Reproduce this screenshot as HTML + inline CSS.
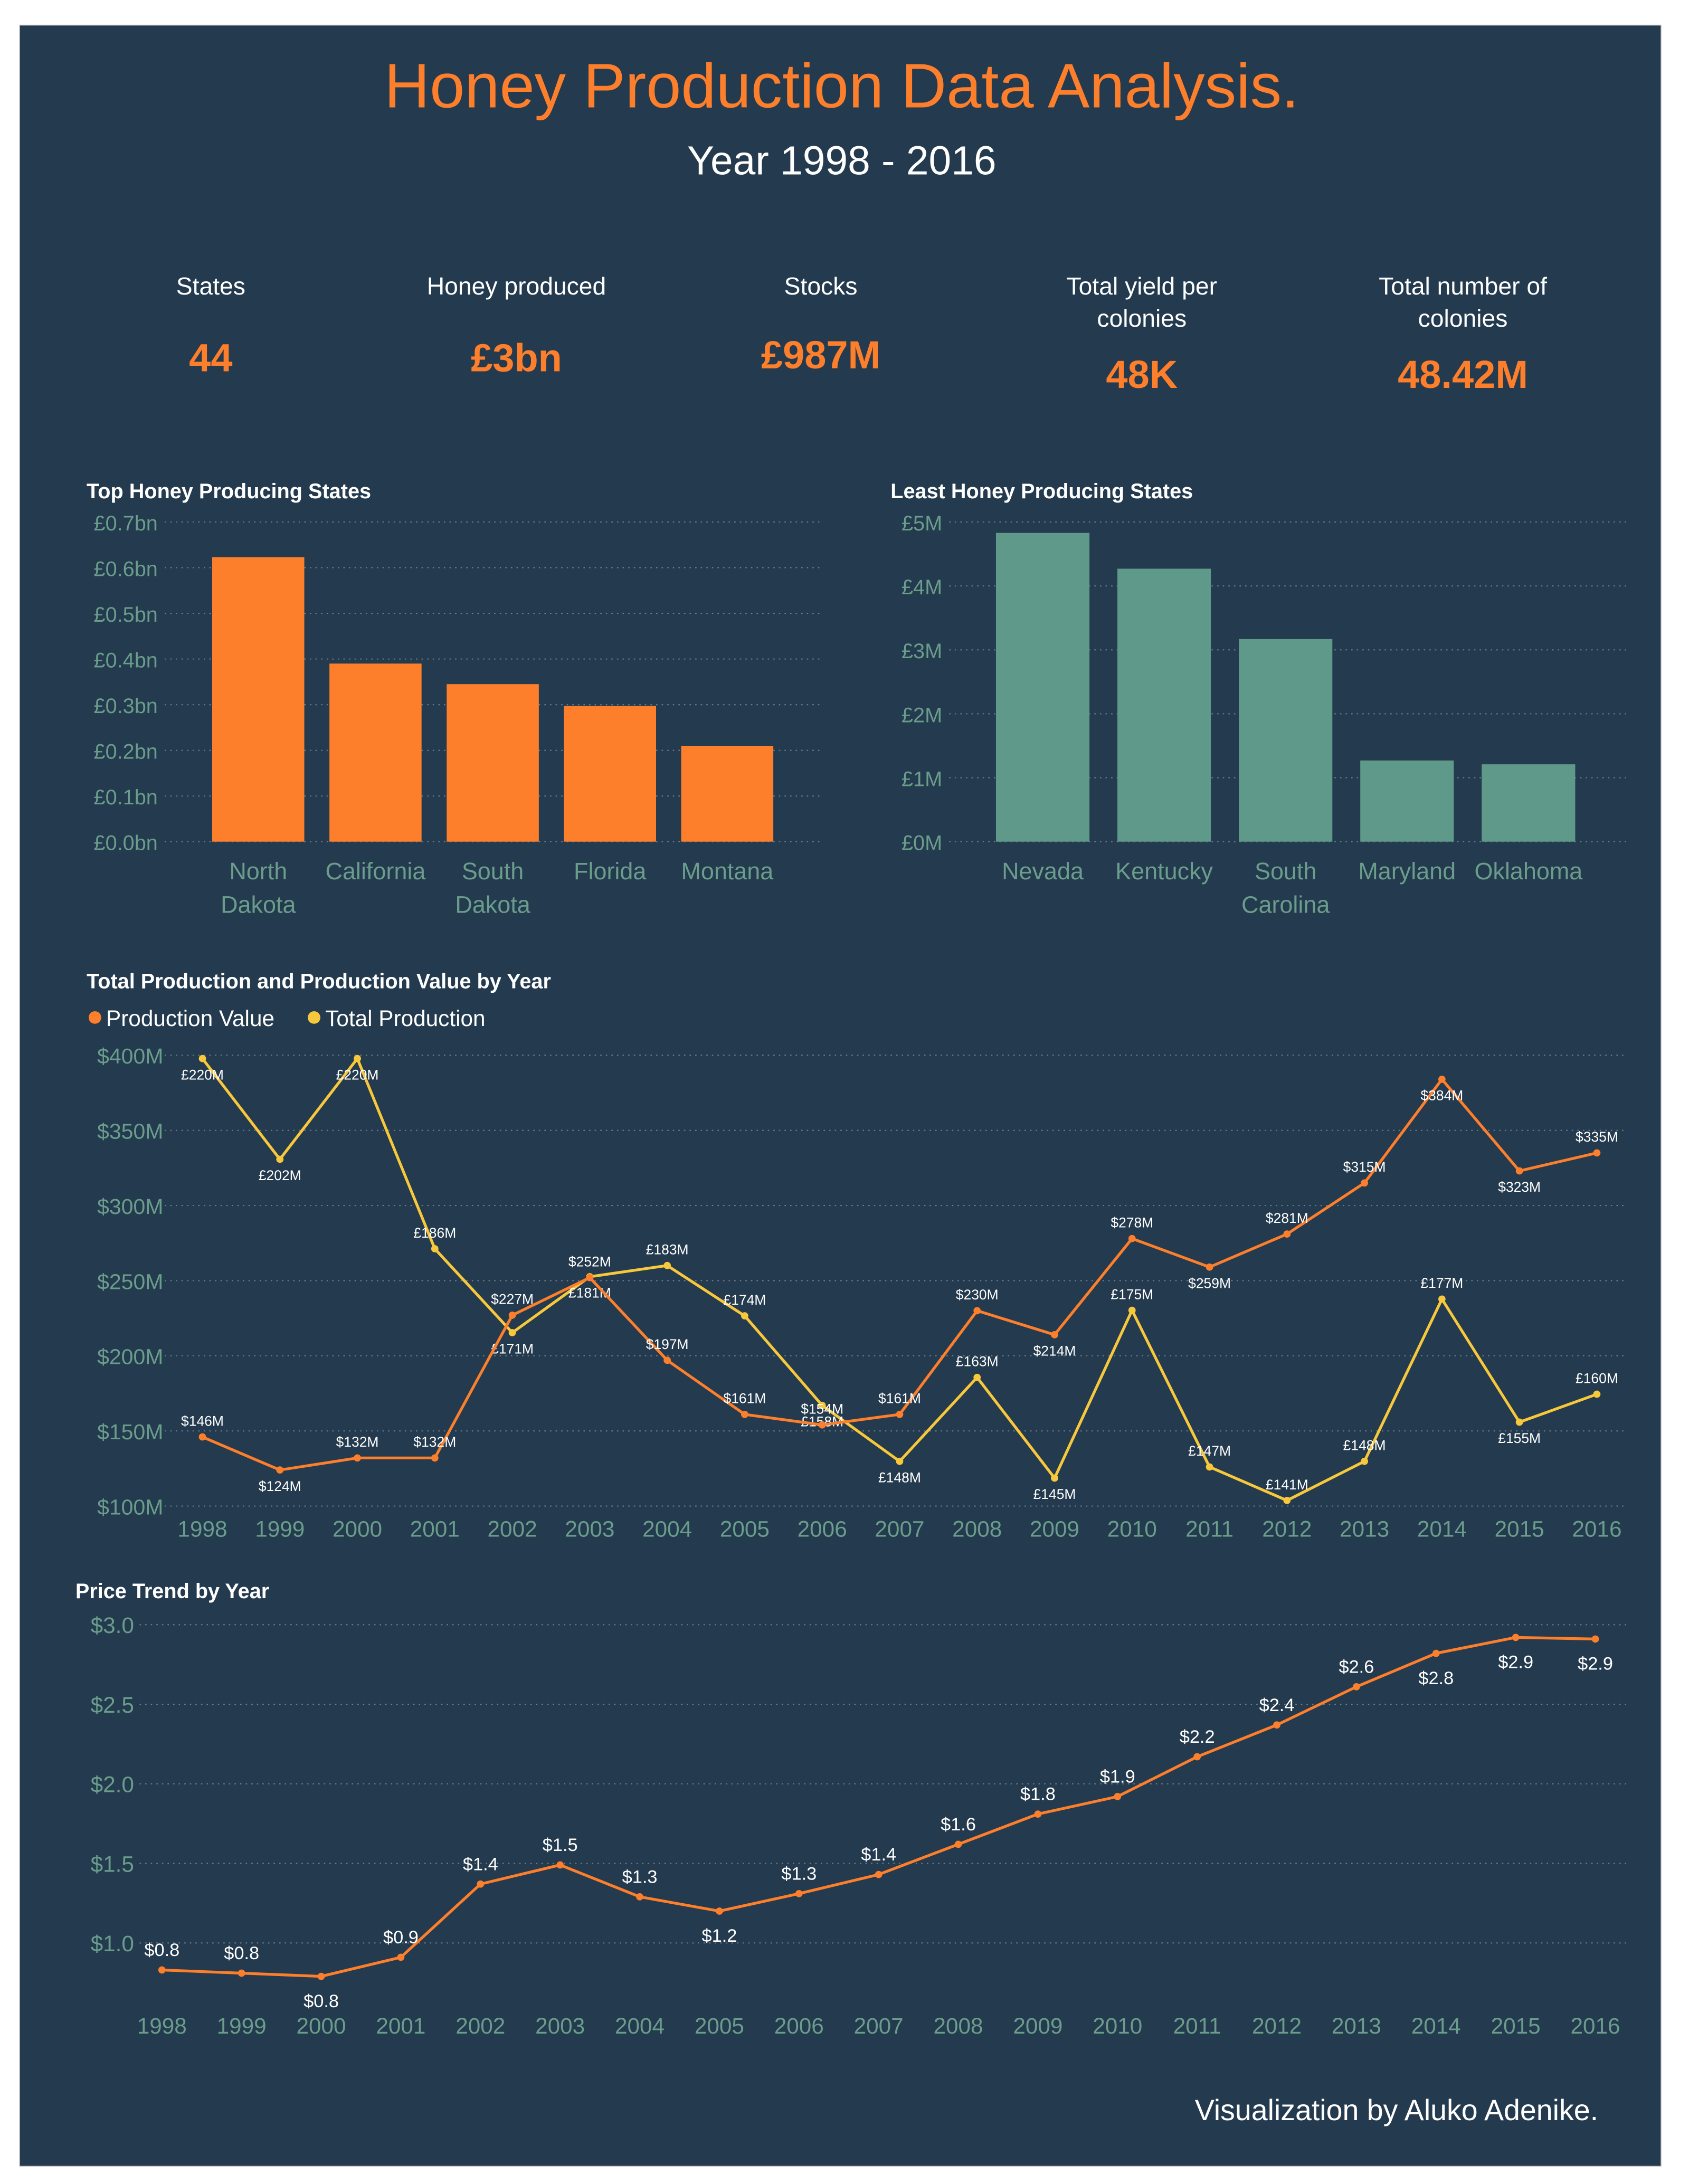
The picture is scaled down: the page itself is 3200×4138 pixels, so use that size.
<!DOCTYPE html>
<html><head><meta charset="utf-8">
<style>
html,body{margin:0;padding:0;background:#fff;width:3200px;height:4138px;overflow:hidden}
svg{display:block}
text{font-family:"Liberation Sans",sans-serif}
</style></head>
<body>
<svg id="root" width="3200" height="4138" viewBox="0 0 1210 1564.7" xmlns="http://www.w3.org/2000/svg">
<rect x="0" y="0" width="1210" height="1565" fill="#ffffff"/>
<rect x="14" y="18" width="1176" height="1534" fill="#243a4e" stroke="#c8c8c8" stroke-width="0.6"/>
<text x="603" y="77" text-anchor="middle" font-size="45" fill="#fd7f2c">Honey Production Data Analysis.</text>
<text x="603" y="125" text-anchor="middle" font-size="29" fill="#ffffff">Year 1998 - 2016</text>

<g>
<text x="151" y="211" text-anchor="middle" font-size="17.5" fill="#fff">States</text>
<text x="151" y="266" text-anchor="middle" font-size="28" font-weight="bold" fill="#fd7f2c">44</text></g>
<g>
<text x="370" y="211" text-anchor="middle" font-size="17.5" fill="#fff">Honey produced</text>
<text x="370" y="266" text-anchor="middle" font-size="28" font-weight="bold" fill="#fd7f2c">£3bn</text></g>
<g>
<text x="588" y="211" text-anchor="middle" font-size="17.5" fill="#fff">Stocks</text>
<text x="588" y="264" text-anchor="middle" font-size="28" font-weight="bold" fill="#fd7f2c">£987M</text></g>
<g>
<text x="818" y="211" text-anchor="middle" font-size="17.5" fill="#fff">Total yield per</text>
<text x="818" y="234" text-anchor="middle" font-size="17.5" fill="#fff">colonies</text>
<text x="818" y="278" text-anchor="middle" font-size="28" font-weight="bold" fill="#fd7f2c">48K</text></g>
<g>
<text x="1048" y="211" text-anchor="middle" font-size="17.5" fill="#fff">Total number of</text>
<text x="1048" y="234" text-anchor="middle" font-size="17.5" fill="#fff">colonies</text>
<text x="1048" y="278" text-anchor="middle" font-size="28" font-weight="bold" fill="#fd7f2c">48.42M</text></g>

<text x="62" y="357" font-size="15" font-weight="bold" fill="#fff">Top Honey Producing States</text>
<g id="topChart"></g>
<text x="638" y="357" font-size="15" font-weight="bold" fill="#fff">Least Honey Producing States</text>
<g id="leastChart"></g>

<text x="62" y="708" font-size="15" font-weight="bold" fill="#fff">Total Production and Production Value by Year</text>
<g><circle cx="68" cy="729" r="4.5" fill="#fd7f2c"/><text x="76" y="735" font-size="16" fill="#fff">Production Value</text></g>
<g><circle cx="225" cy="729" r="4.5" fill="#f8c83c"/><text x="233" y="735" font-size="16" fill="#fff">Total Production</text></g>
<g id="prodChart"></g>

<text x="54" y="1145" font-size="15" font-weight="bold" fill="#fff">Price Trend by Year</text>
<g id="priceChart"></g>

<text x="1145" y="1519" text-anchor="end" font-size="21" fill="#fff">Visualization by Aluko Adenike.</text>
</svg>
<script>
const topStates = ["North|Dakota","California","South|Dakota","Florida","Montana"];
const topValues = [0.623, 0.39, 0.345, 0.297, 0.21];
const topTicks = [0,0.1,0.2,0.3,0.4,0.5,0.6,0.7];
const leastStates = ["Nevada","Kentucky","South|Carolina","Maryland","Oklahoma"];
const leastValues = [4.83, 4.27, 3.17, 1.27, 1.21];
const leastTicks = [0,1,2,3,4,5];
const years = ["1998","1999","2000","2001","2002","2003","2004","2005","2006","2007","2008","2009","2010","2011","2012","2013","2014","2015","2016"];
const prodValue = [146,124,132,132,227,252,197,161,154,161,230,214,278,259,281,315,384,323,335];
const totalProd = [220,202,220,186,171,181,183,174,158,148,163,145,175,147,141,148,177,155,160];
const prodTicks = [100,150,200,250,300,350,400];
const prodValueLabelAbove = [1,0,1,1,1,1,1,1,1,1,1,0,1,0,1,1,0,0,1];
const totalProdLabelAbove = [0,0,0,1,0,0,1,1,0,0,1,0,1,1,1,1,1,0,1];
const price = [0.83,0.81,0.79,0.91,1.37,1.49,1.29,1.20,1.31,1.43,1.62,1.81,1.92,2.17,2.37,2.61,2.82,2.92,2.91];
const priceLabelAbove = [1,1,0,1,1,1,1,0,1,1,1,1,1,1,1,1,0,0,0];
const priceTicks = [1.0,1.5,2.0,2.5,3.0];

const NS="http://www.w3.org/2000/svg";
const AX="#6a9d8c", GRID="#6f7f8c";
function mk(parent,tag,attrs,txt){const e=document.createElementNS(NS,tag);for(const k in attrs)e.setAttribute(k,attrs[k]);if(txt!==undefined)e.textContent=txt;parent.appendChild(e);return e;}

function barChart(g, cats, vals, ticks, fmt, x0, x1, yTop, yBot, cx0, step, bw, color, nameBase){
  const max=ticks[ticks.length-1];
  const y=v=>yBot-(v/max)*(yBot-yTop);
  ticks.forEach(t=>{
    const l=mk(g,"line",{x1:x0,x2:x1,y1:y(t),y2:y(t),stroke:GRID,"stroke-width":0.8,"stroke-dasharray":"1 3"});
    
    
    const tx=mk(g,"text",{x:x0-5,y:y(t)+6,"text-anchor":"end","font-size":15,fill:AX},fmt(t));
    
    
  });
  cats.forEach((c,i)=>{
    const cx=cx0+i*step;
    const r=mk(g,"rect",{x:cx-bw/2,y:y(vals[i]),width:bw,height:yBot-y(vals[i]),fill:color});
    
    
    c.split('|').forEach((p,j)=>{
      const t=mk(g,"text",{x:cx,y:yBot+27+j*24,"text-anchor":"middle","font-size":17,fill:AX},p);
      
      
    });
  });
}
barChart(document.getElementById('topChart'),topStates,topValues,topTicks,t=>"£"+t.toFixed(1)+"bn",118,588,374,603,185,84,66,"#fd7f2c","top");
barChart(document.getElementById('leastChart'),leastStates,leastValues,leastTicks,t=>"£"+t+"M",680,1165,374,603,747,87,67,"#5e998a","least");

function lineSeries(g,xs,ys,color,labels,above,labelName,fs,dy){
  let d="";
  xs.forEach((x,i)=>{d+=(i?"L":"M")+x+" "+ys[i];});
  const p=mk(g,"path",{d:d,fill:"none",stroke:color,"stroke-width":2});
  
  
  xs.forEach((x,i)=>{
    const c=mk(g,"circle",{cx:x,cy:ys[i],r:2.6,fill:color});
    
    
    const t=mk(g,"text",{x:x,y:above[i]?ys[i]-dy[0]:ys[i]+dy[1],"text-anchor":"middle","font-size":fs,fill:"#fff"},labels[i]);
    
    
  });
}

(function(){
  const g=document.getElementById('prodChart');
  const yTop=756,yBot=1079,min=100,max=400;
  const y=v=>yBot-(v-min)/(max-min)*(yBot-yTop);
  const min2=140,max2=220.6;
  const y2=v=>yBot-(v-min2)/(max2-min2)*(yBot-yTop);
  const x=i=>145+i*55.5;
  prodTicks.forEach(t=>{
    const l=mk(g,"line",{x1:118,x2:1165,y1:y(t),y2:y(t),stroke:GRID,"stroke-width":0.8,"stroke-dasharray":"1 3"});
    
    
    const tx=mk(g,"text",{x:117,y:y(t)+6,"text-anchor":"end","font-size":15.5,fill:AX},"$"+t+"M");
    
    
  });
  years.forEach((yr,i)=>{
    const t=mk(g,"text",{x:x(i),y:1101,"text-anchor":"middle","font-size":16,fill:AX},yr);
    
    
  });
  const xs=years.map((_,i)=>x(i));
  lineSeries(g,xs,totalProd.map(y2),"#f8c83c",totalProd.map(v=>"£"+v+"M"),totalProdLabelAbove,"total-production",10,[8,15]);
  lineSeries(g,xs,prodValue.map(y),"#fd7f2c",prodValue.map(v=>"$"+v+"M"),prodValueLabelAbove,"production-value",10,[8,15]);
})();

(function(){
  const g=document.getElementById('priceChart');
  const yTop=1164,yBot=1392,min=1.0,max=3.0;
  const y=v=>yBot-(v-min)/(max-min)*(yBot-yTop);
  const x=i=>116+i*57.05;
  priceTicks.forEach(t=>{
    const l=mk(g,"line",{x1:100,x2:1165,y1:y(t),y2:y(t),stroke:GRID,"stroke-width":0.8,"stroke-dasharray":"1 3"});
    
    
    const tx=mk(g,"text",{x:96,y:y(t)+6,"text-anchor":"end","font-size":16,fill:AX},"$"+t.toFixed(1));
    
    
  });
  years.forEach((yr,i)=>{
    const t=mk(g,"text",{x:x(i),y:1457,"text-anchor":"middle","font-size":16,fill:AX},yr);
    
    
  });
  lineSeries(g,years.map((_,i)=>x(i)),price.map(y),"#fd7f2c",price.map(v=>"$"+v.toFixed(1)),priceLabelAbove,"price",13,[10,22]);
})();
</script>
</body></html>
